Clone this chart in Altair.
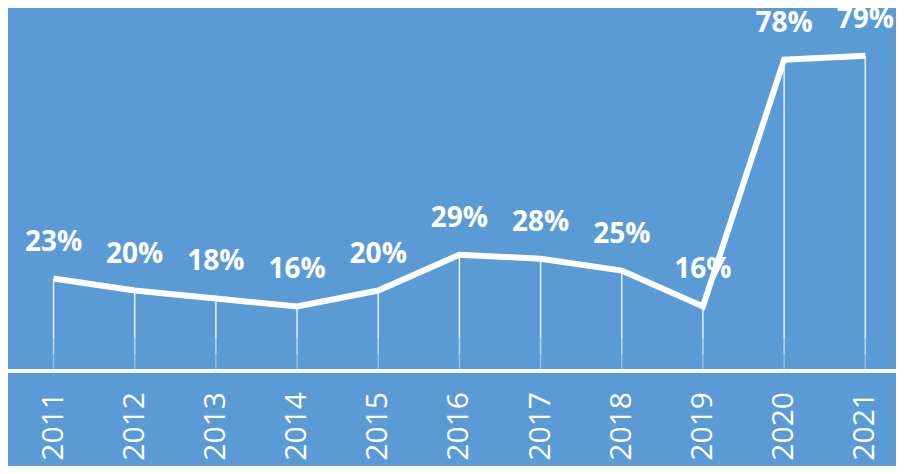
import altair as alt

years = [2011, 2012, 2013, 2014, 2015, 2016, 2017, 2018, 2019, 2020, 2021]
values = [23, 20, 18, 16, 20, 29, 28, 25, 16, 78, 79]
labels = ["23%", "20%", "18%", "16%", "20%", "29%", "28%", "25%", "16%", "78%", "79%"]
year_text = ["2011", "2012", "2013", "2014", "2015", "2016", "2017", "2018", "2019", "2020", "2021"]

records = [
    {"year": yr, "value": v, "label": lb, "ytxt": yt}
    for yr, v, lb, yt in zip(years, values, labels, year_text)
]
data = alt.Data(values=records)

BG = "#5B9BD5"

x = alt.X("year:Q", scale=alt.Scale(domain=[2010.5006, 2021.3167], nice=False, zero=False), axis=None)
y = alt.Y("value:Q", scale=alt.Scale(domain=[-24.1, 91], nice=False, zero=False), axis=None)

drop = alt.Chart(data).mark_bar(color="white", size=1.5, opacity=0.85).encode(x=x, y=y)

fade1 = alt.Chart(data).mark_bar(color=BG, size=3, opacity=0.3).encode(
    x=x, y=alt.value(330), y2=alt.value(346)
)
fade2 = alt.Chart(data).mark_bar(color=BG, size=3, opacity=0.6).encode(
    x=x, y=alt.value(346), y2=alt.value(361)
)

axis_line = alt.Chart(data).mark_rule(color="white", strokeWidth=3).encode(y=alt.value(363))

line = alt.Chart(data).mark_line(color="white", strokeWidth=6).encode(x=x, y=y)

text = alt.Chart(data).mark_text(
    dy=-36, fontSize=28, font="Open Sans", fontWeight="bold", color="white"
).encode(x=x, y=y, text="label:N")

year_labels = alt.Chart(data).mark_text(
    angle=270, align="right", dx=-22, fontSize=30, font="Open Sans", color="white"
).encode(x=x, y=alt.value(362), text="ytxt:N")

chart = (
    alt.layer(drop, fade1, fade2, axis_line, line, text, year_labels)
    .properties(
        width=888, height=458,
        padding=0,
        autosize=alt.AutoSizeParams(type="none"),
        background=BG,
    )
    .configure_view(strokeWidth=0)
)

chart.save("out.html", embed_options={"renderer": "svg", "actions": False})
